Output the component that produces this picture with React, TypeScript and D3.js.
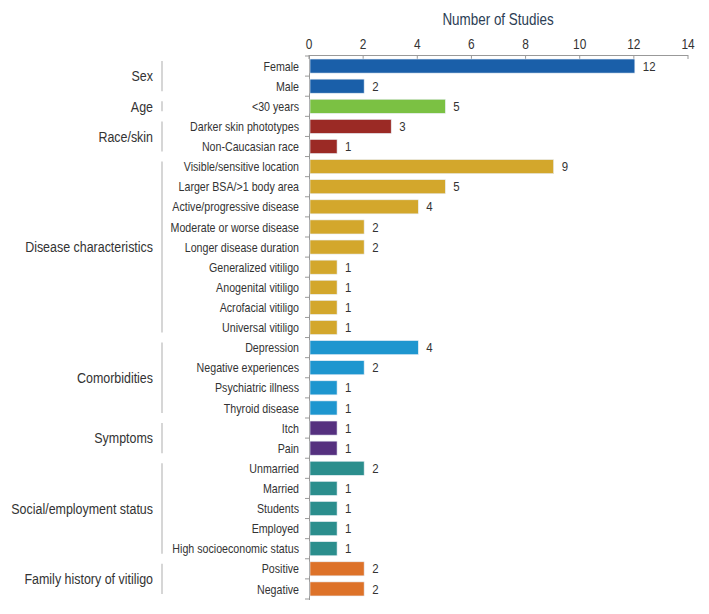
import React from "react";
import * as d3 from "d3";

const groups = ["Sex", "Age", "Race/skin", "Disease characteristics", "Comorbidities", "Symptoms", "Social/employment status", "Family history of vitiligo"];
const groupColors = ["#1a5fa9", "#7bc143", "#9b2a25", "#d3a72c", "#1e96cf", "#55307f", "#2b8e8d", "#dd7229"];
const categories = [
  "Female", "Male",
  "<30 years",
  "Darker skin phototypes", "Non-Caucasian race",
  "Visible/sensitive location", "Larger BSA/>1 body area", "Active/progressive disease", "Moderate or worse disease", "Longer disease duration", "Generalized vitiligo", "Anogenital vitiligo", "Acrofacial vitiligo", "Universal vitiligo",
  "Depression", "Negative experiences", "Psychiatric illness", "Thyroid disease",
  "Itch", "Pain",
  "Unmarried", "Married", "Students", "Employed", "High socioeconomic status",
  "Positive", "Negative",
];
const categoryGroup = [0, 0, 1, 2, 2, 3, 3, 3, 3, 3, 3, 3, 3, 3, 4, 4, 4, 4, 5, 5, 6, 6, 6, 6, 6, 7, 7];
const values = [12, 2, 5, 3, 1, 9, 5, 4, 2, 2, 1, 1, 1, 1, 4, 2, 1, 1, 1, 1, 2, 1, 1, 1, 1, 2, 2];
const xTicks = [0, 2, 4, 6, 8, 10, 12, 14];

const FONT = "'Liberation Sans', Arial, sans-serif";

function T({ x, y, s = 0.82, anchor = "start", size = 13, fill = "#333", children }: any) {
  return (
    <text transform={`translate(${x},${y}) scale(${s},1)`} dy="0.35em" textAnchor={anchor} fontSize={size} fill={fill}>
      {children}
    </text>
  );
}

export default function App() {
  const W = 709, H = 614;
  const x = d3.scaleLinear().domain([0, 14]).range([309, 688]);
  const y = d3.scaleBand<number>().domain(d3.range(categories.length)).range([56, 599]).paddingInner(0.3).paddingOuter(0.15);
  const step = y.step();
  const boundaries = d3.range(categories.length + 1).map((i) => 56 + i * step);

  const groupInfo = groups.map((g, gi) => {
    const idx = categoryGroup.map((c, i) => (c === gi ? i : -1)).filter((i) => i >= 0);
    const first = idx[0], last = idx[idx.length - 1];
    const c0 = y(first)! + y.bandwidth() / 2;
    const c1 = y(last)! + y.bandwidth() / 2;
    return { g, c0, c1 };
  });

  return (
    <svg width={W} height={H} style={{ position: "absolute", left: 0, top: 0, background: "#fff" }} fontFamily={FONT}>
      <T x={498} y={19} anchor="middle" size={16} s={0.84} fill="#2c3e55">Number of Studies</T>
      {xTicks.map((t) => (
        <g key={t}>
          <T x={x(t)} y={44} anchor="middle" size={14} s={0.85}>{t}</T>
          <line x1={x(t)} x2={x(t)} y1={55} y2={59} stroke="#999" />
        </g>
      ))}
      <line x1={x(0)} x2={x(14)} y1={55.5} y2={55.5} stroke="#999" />
      <line x1={x(0) + 0.5} x2={x(0) + 0.5} y1={55} y2={600} stroke="#999" />
      {boundaries.map((b, i) => (
        <line key={i} x1={x(0) - 4} x2={x(0)} y1={b} y2={b} stroke="#999" />
      ))}
      {values.map((v, i) => (
        <g key={i}>
          <rect x={x(0) + 1} y={y(i)} width={x(v) - x(0)} height={y.bandwidth()} fill={groupColors[categoryGroup[i]]} stroke="#e8eef5" strokeWidth={0.6} />
          <T x={x(v) + 9} y={y(i)! + y.bandwidth() / 2} size={13} s={0.88}>{v}</T>
          <T x={299} y={y(i)! + y.bandwidth() / 2} anchor="end" size={13}>{categories[i]}</T>
        </g>
      ))}
      {groupInfo.map((gi) => (
        <g key={gi.g}>
          <line x1={162} x2={162} y1={gi.c0 - 5} y2={gi.c1 + 5} stroke="#bbb" strokeWidth={1.2} />
          <T x={153} y={(gi.c0 + gi.c1) / 2} anchor="end" size={15} s={0.83}>{gi.g}</T>
        </g>
      ))}
    </svg>
  );
}
